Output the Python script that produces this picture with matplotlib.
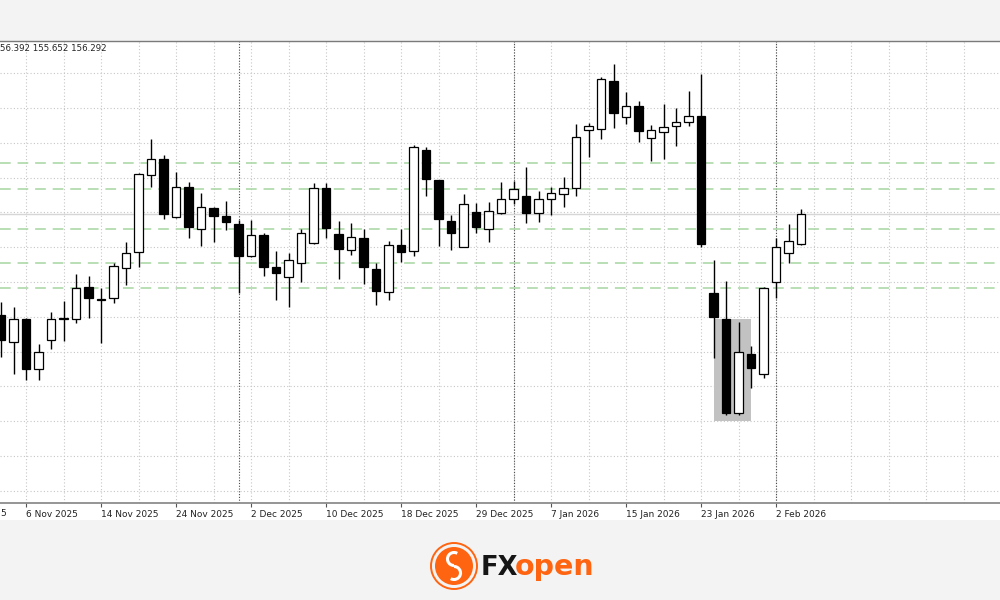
import matplotlib
matplotlib.use('Agg')
import matplotlib.pyplot as plt
from matplotlib.patches import Rectangle, Circle, Arc
import numpy as np
import pandas as pd

# Daily USDJPY candles, 4 Nov 2025 .. 4 Feb 2026 (no candle on 25 Dec / 1 Jan)
dates = pd.bdate_range('2025-11-04', '2026-02-04', freq='C',
                       holidays=['2025-12-25', '2026-01-01'])

opens = [154.20, 153.65, 154.12, 153.09, 153.69, 154.13, 154.12, 154.78, 154.54, 154.55,
         155.17, 155.51, 157.10, 157.43, 156.23, 156.85, 155.98, 156.41, 156.25, 156.08,
         155.42, 155.86, 155.20, 154.99, 155.28, 155.69, 156.83, 155.88, 155.55, 155.79,
         155.15, 154.68, 155.65, 155.53, 157.61, 156.99, 156.15, 155.61, 156.33, 155.98,
         156.31, 156.60, 156.66, 156.31, 156.60, 156.70, 156.83, 158.03, 158.05, 159.04,
         158.29, 158.52, 157.86, 157.98, 158.11, 158.19, 158.32, 154.66, 154.12, 152.18,
         153.40, 152.98, 154.89, 155.48, 155.66]
highs = [154.47, 154.37, 154.14, 153.60, 154.27, 154.49, 155.05, 155.01, 154.76, 155.28,
         155.71, 157.14, 157.84, 157.51, 157.16, 156.95, 156.72, 156.43, 156.56, 156.17,
         156.17, 155.90, 155.53, 155.48, 155.98, 156.93, 156.93, 156.15, 156.10, 155.98,
         155.28, 155.73, 155.98, 157.72, 157.67, 157.00, 156.27, 156.70, 156.52, 156.54,
         156.95, 156.97, 157.26, 156.77, 156.85, 157.05, 158.15, 158.17, 159.12, 159.39,
         158.81, 158.62, 158.13, 158.56, 158.48, 158.83, 159.18, 155.34, 154.91, 154.06,
         153.56, 154.78, 155.79, 156.08, 156.392]
lows = [153.34, 152.98, 152.86, 152.86, 153.50, 153.67, 154.04, 154.14, 153.63, 154.45,
        154.82, 155.20, 156.85, 156.19, 156.21, 155.79, 155.63, 155.71, 155.96, 154.66,
        155.41, 155.01, 154.51, 154.37, 154.89, 155.68, 155.79, 154.95, 155.44, 154.84,
        154.41, 154.51, 155.30, 155.42, 156.66, 155.63, 155.55, 155.60, 155.90, 155.71,
        156.30, 156.50, 156.10, 156.12, 156.27, 156.43, 156.66, 157.47, 157.84, 158.07,
        158.15, 157.78, 157.38, 157.43, 157.70, 158.11, 155.61, 153.31, 152.14, 152.14,
        152.70, 152.90, 154.55, 155.28, 155.652]
closes = [153.69, 154.12, 153.09, 153.44, 154.12, 154.15, 154.76, 154.55, 154.52, 155.22,
          155.48, 157.12, 157.43, 156.29, 156.85, 156.02, 156.43, 156.25, 156.12, 155.42,
          155.86, 155.20, 155.07, 155.34, 155.90, 156.83, 156.00, 155.57, 155.82, 155.20,
          154.70, 155.65, 155.51, 157.67, 157.01, 156.19, 155.90, 156.50, 156.02, 156.35,
          156.60, 156.81, 156.31, 156.60, 156.72, 156.83, 157.88, 158.11, 159.08, 158.38,
          158.52, 158.00, 158.03, 158.09, 158.19, 158.32, 155.67, 154.16, 152.18, 153.44,
          153.11, 154.76, 155.61, 155.73, 156.292]

# horizontal levels (green dashed) and current bid
levels = [157.34, 156.81, 155.98, 155.28, 154.76]
bid = 156.292
header = '56.392 155.652 156.292'   # visible part of the OHLC header

# highlighted zone (candle index range, price range)
zone_x = (57, 60)
zone_y = (152.01, 154.12)

ORANGE = '#ff6410'

fig = plt.figure(figsize=(10, 6), dpi=100, facecolor='#f3f3f3')
# white chart panel
fig.patches.append(Rectangle((0, 80 / 600), 1, 479 / 600, transform=fig.transFigure,
                             facecolor='white', edgecolor='none', zorder=-1))

ax = fig.add_axes([0, 97 / 600, 1, 462 / 600])
ax.set_facecolor('white')
ax.set_xlim(-0.08, 79.92)
ax.set_ylim(150.319, 159.864)

# dotted grid
for gy in np.arange(13) * 0.719 + 150.57:
    ax.axhline(gy, color='#c6c6c6', lw=0.8, ls=(0, (1, 2)), zorder=0)
for gx in np.arange(-1, 80, 3):
    ax.axvline(gx, color='#c6c6c6', lw=0.8, ls=(0, (1, 2)), zorder=0)

# month separators
idx = np.arange(len(dates))
for k in idx[1:]:
    if dates[k].month != dates[k - 1].month:
        ax.axvline(k, color='#4a4a4a', lw=0.8, ls=(0, (1, 1.5)), zorder=0.5)

# levels and bid line
for lv in levels:
    ax.axhline(lv, color='#a6d5a0', lw=1.1, ls=(0, (7, 4.5)), zorder=0.6)
ax.axhline(bid, color='#d6d6d6', lw=1.0, zorder=0.6)

# highlighted zone
ax.add_patch(Rectangle((zone_x[0], zone_y[0]), zone_x[1] - zone_x[0], zone_y[1] - zone_y[0],
                       facecolor='#c2c2c2', edgecolor='none', zorder=1))

# candles
o = np.array(opens); h = np.array(highs); l = np.array(lows); c = np.array(closes)
up = c >= o
ax.vlines(idx, l, h, color='black', lw=1.0, zorder=2)
body = np.maximum(np.abs(c - o), 0.015)
ax.bar(idx, body, bottom=np.minimum(o, c), width=0.66,
       color=np.where(up, 'white', 'black'), edgecolor='black', linewidth=0.9, zorder=3)

# x axis: date labels every 6 candles
tick_pos = list(range(2, len(dates), 6))
ax.set_xticks(tick_pos)
ax.set_xticklabels([f"{dates[k].day} {dates[k].strftime('%b %Y')}" for k in tick_pos],
                   ha='left', fontsize=6.5, color='#222222')
ax.tick_params(axis='x', direction='out', length=3, width=0.8, color='#555555', pad=2)
ax.set_yticks([])
# tail of the previous label ("29 Oct 2025") showing at the left edge
ax.text(0.0, -0.012, '5', transform=ax.transAxes, ha='left', va='top',
        fontsize=6.5, color='#222222', clip_on=False)

for side in ('left', 'right'):
    ax.spines[side].set_visible(False)
ax.spines['top'].set_color('#7a7a7a')
ax.spines['top'].set_linewidth(1.0)
ax.spines['bottom'].set_color('#8c8c8c')
ax.spines['bottom'].set_linewidth(1.3)

# OHLC header
fig.text(0.0005, 1 - 48.5 / 600, header, fontsize=6.2, color='#222222', va='center', ha='left')

# FXopen logo in the footer
lax = fig.add_axes([0, 0, 1, 1], facecolor='none')
lax.set_xlim(0, 1000)
lax.set_ylim(600, 0)
lax.axis('off')
lax.add_patch(Circle((454, 566), 23, facecolor='none', edgecolor=ORANGE, lw=1.4))
lax.add_patch(Circle((454, 566), 19, facecolor=ORANGE, edgecolor='none'))
lax.add_patch(Arc((454, 559), 13, 13, theta1=90, theta2=300, color='white', lw=2.2))
lax.add_patch(Arc((454, 573), 13, 13, theta1=-90, theta2=120, color='white', lw=2.2))
lax.text(481, 575, 'FX', fontsize=18.5, fontweight='heavy', color='#151515', va='baseline')
lax.text(515, 575, 'open', fontsize=20.5, fontweight='bold', color=ORANGE, va='baseline')

fig.savefig('out.png', dpi=100, facecolor=fig.get_facecolor())
plt.close(fig)
